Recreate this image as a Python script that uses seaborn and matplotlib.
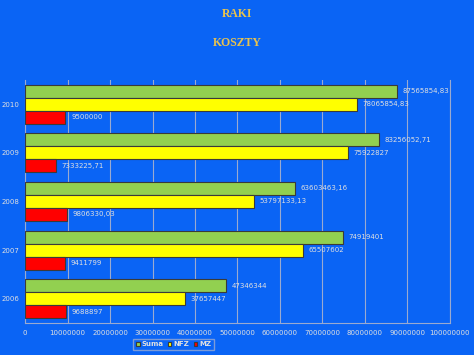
import matplotlib
matplotlib.use("Agg")
import matplotlib.pyplot as plt
import seaborn as sns
import pandas as pd

years = ["2010", "2009", "2008", "2007", "2006"]
suma = [87565854.83, 83256052.71, 63603463.16, 74919401, 47346344]
nfz = [78065854.83, 75922827, 53797133.13, 65507602, 37657447]
mz = [9500000, 7333225.71, 9806330.03, 9411799, 9688897]
suma_lbl = ["87565854,83", "83256052,71", "63603463,16", "74919401", "47346344"]
nfz_lbl = ["78065854,83", "75922827", "53797133,13", "65507602", "37657447"]
mz_lbl = ["9500000", "7333225,71", "9806330,03", "9411799", "9688897"]
series = ["Suma", "NFZ", "MZ"]
colors = ["#92D050", "#FFFF00", "#FF0000"]
xticks = [0, 10000000, 20000000, 30000000, 40000000, 50000000,
          60000000, 70000000, 80000000, 90000000, 100000000]

rows = []
for i, y in enumerate(years):
    rows.append({"Rok": y, "Seria": "Suma", "Wartosc": suma[i], "lbl": suma_lbl[i]})
    rows.append({"Rok": y, "Seria": "NFZ", "Wartosc": nfz[i], "lbl": nfz_lbl[i]})
    rows.append({"Rok": y, "Seria": "MZ", "Wartosc": mz[i], "lbl": mz_lbl[i]})
df = pd.DataFrame(rows)

bg = "#0A64F5"
txt = "#E0E0E0"
fig = plt.figure(figsize=(4.74, 3.55), dpi=100, facecolor=bg)
ax = fig.add_axes([0.053, 0.090, 0.896, 0.685])
ax.set_facecolor(bg)

sns.barplot(data=df, x="Wartosc", y="Rok", hue="Seria", order=years,
            hue_order=series, palette=colors, saturation=1, orient="h", width=0.8,
            edgecolor="#3a3a3a", linewidth=0.8, ax=ax, legend=True, zorder=3)

for cont, s in zip(ax.containers, series):
    labels = list(df[df["Seria"] == s]["lbl"])
    ax.bar_label(cont, labels=labels, padding=4, fontsize=5, color=txt)

ax.set_xlim(0, 100000000)
ax.set_xticks(xticks)
ax.set_xticklabels([str(v) for v in xticks], fontsize=5, color=txt)
ax.tick_params(axis="y", labelsize=5, labelcolor=txt, length=0, pad=4)
ax.tick_params(axis="x", length=0, pad=5)
ax.set_xlabel("")
ax.set_ylabel("")
ax.grid(axis="x", color="#9AAAD0", linewidth=0.8, zorder=0)
ax.set_axisbelow(True)
for sp in ["top"]:
    ax.spines[sp].set_visible(False)
for sp in ["left", "bottom", "right"]:
    ax.spines[sp].set_color("#9AAAD0")
    ax.spines[sp].set_linewidth(0.8)

leg = ax.legend(loc="center", bbox_to_anchor=(0.35, -0.088), ncol=3,
                fontsize=5, frameon=True, handlelength=0.5, handleheight=0.5,
                handletextpad=0.3, columnspacing=0.6, borderpad=0.4,
                facecolor=bg, edgecolor="#9AAAD0", fancybox=False)
for t in leg.get_texts():
    t.set_color(txt)
    t.set_fontweight("bold")

fig.text(0.5, 1 - 14 / 355, "RAKI", ha="center", va="center",
         fontsize=8.5, fontweight="bold", color="#E8C34E", family="Liberation Serif")
fig.text(0.5, 1 - 43 / 355, "KOSZTY", ha="center", va="center",
         fontsize=8.5, fontweight="bold", color="#E8C34E", family="Liberation Serif")

fig.savefig("out.png", dpi=100, facecolor=bg)
